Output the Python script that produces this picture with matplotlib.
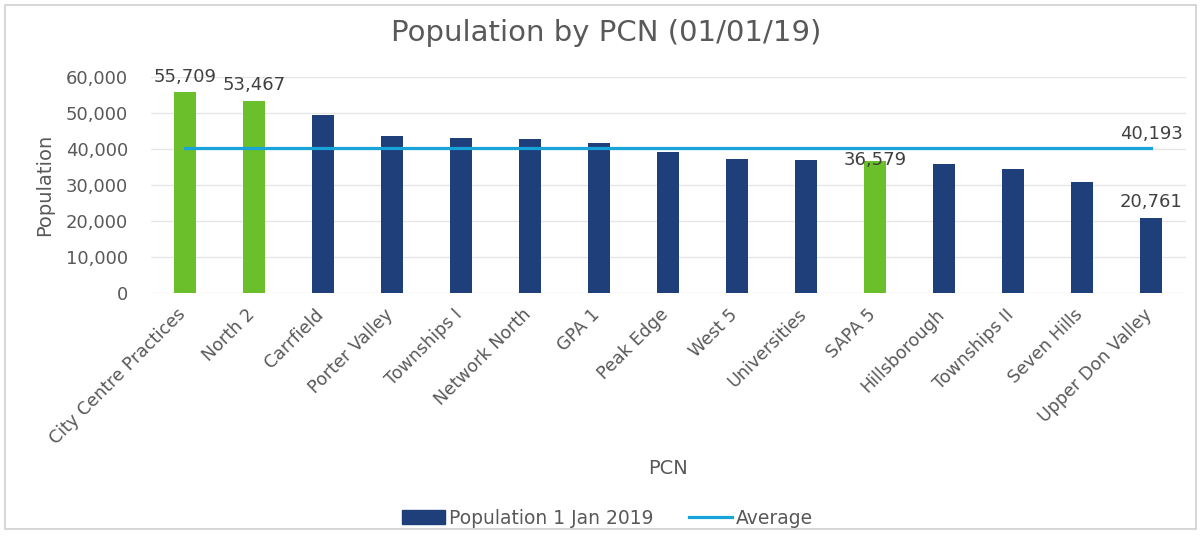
import matplotlib.pyplot as plt
from matplotlib.patches import Rectangle
from matplotlib.transforms import ScaledTranslation
import matplotlib.ticker as mticker
import numpy as np

# data
pcn = ['City Centre Practices', 'North 2', 'Carrfield', 'Porter Valley', 'Townships I',
       'Network North', 'GPA 1', 'Peak Edge', 'West 5', 'Universities', 'SAPA 5',
       'Hillsborough', 'Townships II', 'Seven Hills', 'Upper Don Valley']
population = [55709, 53467, 49400, 43600, 43100, 42700, 41800, 39300, 37100,
              36900, 36579, 35800, 34400, 30900, 20761]
highlight = ['City Centre Practices', 'North 2', 'SAPA 5']
average = 40193
labelled = ['City Centre Practices', 'North 2', 'Upper Don Valley']

navy = '#1f3f7a'
green = '#6abf2a'
cyan = '#18a3d9'
txt = '#595959'

plt.rcParams['font.family'] = ['DejaVu Sans']

fig = plt.figure(figsize=(12.01, 5.43), dpi=100)
ax = fig.add_axes([150.5 / 1201, 1 - 293 / 543, 1035 / 1201, 216 / 543])

x = np.arange(len(pcn))
colors = [green if p in highlight else navy for p in pcn]
bars = ax.bar(x, population, width=0.32, color=colors, zorder=2)
line, = ax.plot(x, [average] * len(pcn), color=cyan, lw=2.3, zorder=3)

# data labels
for i, (p, v) in enumerate(zip(pcn, population)):
    if p in labelled:
        ax.annotate('{:,}'.format(v), (i, v), xytext=(0, 5), textcoords='offset points',
                    ha='center', va='bottom', fontsize=13, color='#404040')
i = pcn.index('SAPA 5')
ax.annotate('{:,}'.format(population[i]), (i, population[i]), xytext=(0, 1),
            textcoords='offset points', ha='center', va='center', fontsize=13,
            color='#404040', zorder=4)
ax.annotate('{:,}'.format(average), (x[-1], average), xytext=(0, 4), textcoords='offset points',
            ha='center', va='bottom', fontsize=13, color='#404040')

ax.set_xlim(-0.5, len(pcn) - 0.5)
ax.set_ylim(0, 60000)
ax.yaxis.set_major_locator(mticker.MultipleLocator(10000))
ax.yaxis.set_major_formatter(mticker.FuncFormatter(lambda v, _: '{:,}'.format(int(v))))
ax.grid(axis='y', color='#e6e6e6', lw=1, zorder=0)
for s in ax.spines.values():
    s.set_visible(False)
ax.tick_params(length=0, colors=txt, labelsize=13)
ax.tick_params(axis='y', pad=16)
ax.tick_params(axis='x', pad=9, labelsize=12.6)
ax.set_xticks(x)
ax.set_xticklabels(pcn, rotation=45, ha='right', rotation_mode='anchor')
shift = ScaledTranslation(-6 / 72, 0, fig.dpi_scale_trans)
for lab in ax.get_xticklabels():
    lab.set_transform(lab.get_transform() + shift)

ax.set_ylabel('Population', fontsize=14, color=txt)
ax.yaxis.set_label_coords(-(150.5 - 54) / 1035, 0.5)
ax.set_xlabel('PCN', fontsize=14, color=txt)
ax.xaxis.set_label_coords(0.5, -(459 - 293) / 216)
fig.suptitle('Population by PCN (01/01/19)', x=0.505, y=0.965, fontsize=21, color=txt)

leg = fig.legend([bars, line], ['Population 1 Jan 2019', 'Average'],
                 loc='center', bbox_to_anchor=(0.506, 1 - 518 / 543), ncol=2, frameon=False,
                 fontsize=13.5, handlelength=2.3, handletextpad=0.2, columnspacing=1.9)
leg.legend_handles[0].set_color(navy)
for t in leg.get_texts():
    t.set_color(txt)

# chart border
fig.patches.append(Rectangle((0.004, 0.025), 0.992, 0.966, transform=fig.transFigure,
                             fill=False, edgecolor='#d0d0d0', lw=1.2))

fig.savefig('out.png', dpi=100)
